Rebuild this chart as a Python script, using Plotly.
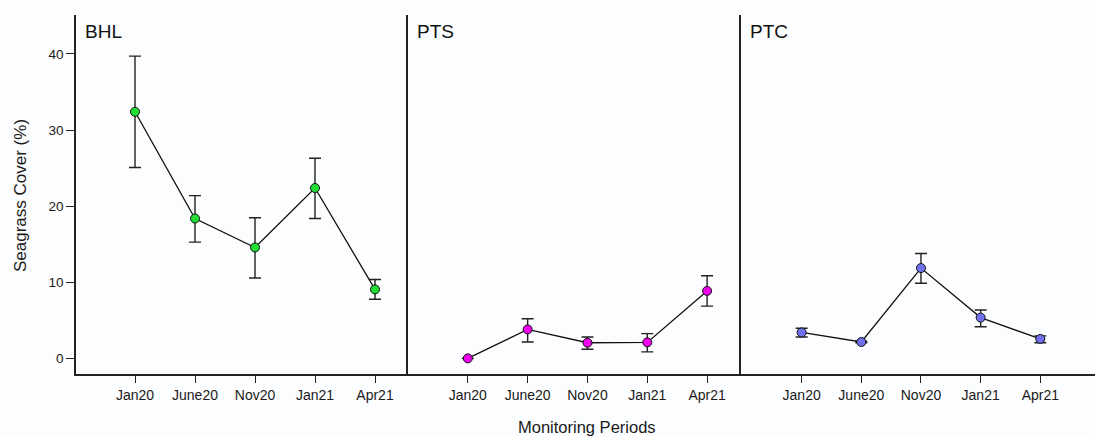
import plotly.graph_objects as go
from plotly.subplots import make_subplots

periods = ["Jan20", "June20", "Nov20", "Jan21", "Apr21"]
sites = ["BHL", "PTS", "PTC"]

bhl_mean = [32.4, 18.4, 14.6, 22.4, 9.1]
bhl_plus = [7.3, 3.0, 3.9, 3.9, 1.3]
bhl_minus = [7.3, 3.1, 4.0, 4.0, 1.3]

pts_mean = [0.05, 3.85, 2.1, 2.15, 8.9]
pts_plus = [0.0, 1.4, 0.75, 1.15, 2.0]
pts_minus = [0.0, 1.65, 0.85, 1.25, 2.0]

ptc_mean = [3.45, 2.2, 11.9, 5.4, 2.6]
ptc_plus = [0.55, 0.1, 1.9, 1.0, 0.4]
ptc_minus = [0.6, 0.1, 2.0, 1.2, 0.5]

colors = ["#22dd33", "#ee00ee", "#7070ee"]

means = [bhl_mean, pts_mean, ptc_mean]
pluses = [bhl_plus, pts_plus, ptc_plus]
minuses = [bhl_minus, pts_minus, ptc_minus]

W, H = 1095, 437
L, R, T, B = 76, 1095, 15, 374
pw = R - L
ph = B - T
bounds = [(76, 408), (408, 741), (741, 1095)]
widths = [b[1] - b[0] for b in bounds]

fig = make_subplots(rows=1, cols=3, shared_yaxes=True, horizontal_spacing=0,
                    column_widths=widths)

font = "Liberation Sans, Arial, sans-serif"
ink = "#1a1a1a"

for i in range(3):
    fig.add_trace(go.Scatter(
        x=list(range(len(periods))), y=means[i], mode="lines+markers",
        line=dict(color="#111111", width=1.3),
        marker=dict(size=9, color=colors[i], line=dict(color="#111111", width=1)),
        error_y=dict(type="data", symmetric=False, array=pluses[i], arrayminus=minuses[i],
                     color="#222222", thickness=1.4, width=6),
        showlegend=False,
    ), row=1, col=i + 1)

ranges = [(-59 / 60, 4 + 33 / 60), (-60 / 60, 4 + 34 / 60), (-61 / 60, 4 + 55 / 60)]
for i in range(3):
    fig.update_xaxes(
        row=1, col=i + 1, range=list(ranges[i]),
        tickmode="array", tickvals=list(range(len(periods))), ticktext=periods,
        ticks="outside", ticklen=7, tickwidth=1.3, tickcolor="#222222",
        showline=True, linecolor="#222222", linewidth=1.6,
        showgrid=False, zeroline=False,
        tickfont=dict(family=font, size=14, color=ink),
    )
    fig.update_yaxes(
        row=1, col=i + 1, range=[-2, 45.1],
        showline=True, linecolor="#222222", linewidth=1.6,
        showgrid=False, zeroline=False,
    )
    fig.add_annotation(
        xref=f"x{'' if i == 0 else i + 1} domain", yref="paper",
        x=0.02, y=1 - (32 - T) / ph, text=sites[i], showarrow=False,
        xanchor="left", yanchor="middle",
        font=dict(family=font, size=19, color="#111111"),
    )

fig.update_yaxes(row=1, col=1, tickmode="array", tickvals=[0, 10, 20, 30, 40],
                 ticks="outside", ticklen=8, tickwidth=1.3, tickcolor="#222222",
                 tickfont=dict(family=font, size=13.5, color=ink))
fig.update_yaxes(row=1, col=2, ticks="", showticklabels=False)
fig.update_yaxes(row=1, col=3, ticks="", showticklabels=False)

fig.add_annotation(
    xref="paper", yref="paper", x=(20 - L) / pw, y=1 - (196 - T) / ph,
    text="Seagrass Cover (%)", showarrow=False, textangle=-90,
    xanchor="center", yanchor="middle",
    font=dict(family=font, size=17, color=ink),
)
fig.add_annotation(
    xref="paper", yref="paper", x=(587 - L) / pw, y=-(427 - B) / ph,
    text="Monitoring Periods", showarrow=False, xanchor="center", yanchor="middle",
    font=dict(family=font, size=16.5, color=ink),
)

fig.update_layout(
    width=W, height=H,
    margin=dict(l=L, r=W - R, t=T, b=H - B),
    paper_bgcolor="#fcfdfe", plot_bgcolor="#fcfdfe",
)

fig.write_html("out.html", config={"displayModeBar": False},
               post_script="document.body.style.margin='0';document.body.style.overflow='hidden';")
